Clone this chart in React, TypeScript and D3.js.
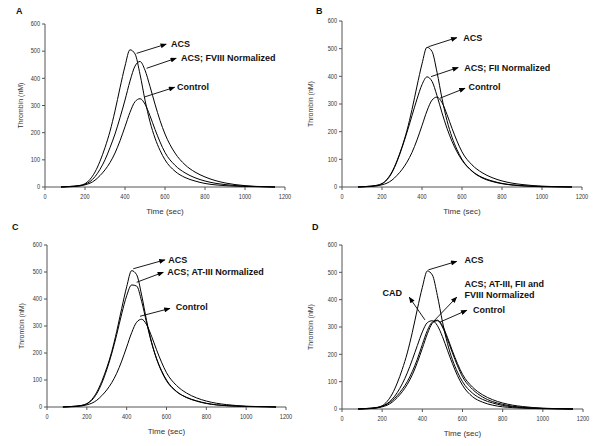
import React from "react";
import * as d3 from "d3";

// ---- data ----
const TIME = [80, 125, 175, 200, 225, 250, 275, 300, 325, 350, 375, 400, 425, 450, 475, 500, 525, 550, 575, 600, 650, 700, 750, 800, 850, 900, 1000, 1100, 1150];
const ACS = [0, 2, 6, 12, 28, 55, 95, 145, 205, 280, 365, 445, 505, 490, 415, 320, 240, 180, 135, 100, 58, 35, 22, 13, 8, 5, 2, 1, 0];
const CONTROL = [0, 1, 4, 8, 14, 25, 42, 63, 90, 125, 170, 222, 275, 314, 325, 305, 262, 212, 166, 127, 80, 52, 34, 22, 14, 9, 3, 1, 0];
const FVIII_NORM = [0, 2, 5, 10, 20, 38, 65, 100, 145, 195, 255, 320, 390, 445, 462, 430, 370, 305, 245, 195, 125, 82, 55, 37, 24, 15, 5, 1, 0];
const FII_NORM = [0, 2, 6, 12, 26, 52, 92, 142, 198, 258, 318, 370, 398, 382, 330, 268, 212, 165, 127, 97, 57, 33, 20, 12, 7, 4, 1, 0, 0];
const ATIII_NORM = [0, 2, 6, 12, 25, 50, 88, 138, 198, 268, 345, 412, 452, 448, 392, 312, 238, 178, 132, 97, 57, 36, 23, 14, 8, 5, 2, 1, 0];
const CAD = [0, 2, 5, 10, 20, 36, 60, 92, 132, 180, 232, 282, 316, 323, 305, 265, 215, 166, 122, 87, 45, 25, 14, 8, 5, 3, 1, 0, 0];
const ALL_NORM = [0, 1, 5, 10, 18, 31, 49, 72, 100, 137, 182, 236, 287, 318, 323, 300, 255, 205, 158, 118, 72, 44, 27, 17, 10, 6, 2, 1, 0];

const X_TICKS = [0, 200, 400, 600, 800, 1000, 1200];
const Y_TICKS = [0, 100, 200, 300, 400, 500, 600];
const PANEL_LETTERS = ["A", "B", "C", "D"];
const X_TITLE = "Time (sec)";
const Y_TITLE = "Thrombin (nM)";

type Ann = { lines: string[]; from: [number, number]; to: [number, number]; label: [number, number]; anchor: "start" | "end" };

const ANN_A: Ann[] = [
  { lines: ["ACS"], from: [458, 492], to: [606, 526], label: [630, 526], anchor: "start" },
  { lines: ["ACS; FVIII Normalized"], from: [508, 437], to: [656, 474], label: [680, 474], anchor: "start" },
  { lines: ["Control"], from: [500, 332], to: [648, 367], label: [660, 370], anchor: "start" },
];
const ANN_B: Ann[] = [
  { lines: ["ACS"], from: [432, 507], to: [574, 540], label: [606, 540], anchor: "start" },
  { lines: ["ACS; FII Normalized"], from: [445, 399], to: [581, 432], label: [611, 432], anchor: "start" },
  { lines: ["Control"], from: [490, 321], to: [615, 357], label: [632, 362], anchor: "start" },
];
const ANN_C: Ann[] = [
  { lines: ["ACS"], from: [433, 512], to: [592, 545], label: [609, 547], anchor: "start" },
  { lines: ["ACS; AT-III Normalized"], from: [450, 462], to: [584, 499], label: [604, 499], anchor: "start" },
  { lines: ["Control"], from: [467, 336], to: [617, 365], label: [646, 372], anchor: "start" },
];
const ANN_D: Ann[] = [
  { lines: ["ACS"], from: [430, 509], to: [571, 540], label: [610, 545], anchor: "start" },
  { lines: ["CAD"], from: [413, 326], to: [335, 409], label: [299, 424], anchor: "end" },
  { lines: ["ACS; AT-III, FII and", "FVIII Normalized"], from: [455, 320], to: [571, 409], label: [610, 457], anchor: "start" },
  { lines: ["Control"], from: [488, 318], to: [621, 361], label: [652, 364], anchor: "start" },
];

const PANELS = [
  { letter: PANEL_LETTERS[0], letterPos: [16, 14], x0: 45, x1: 285, y0: 187, y1: 24, ytx: 23, series: [ACS, FVIII_NORM, CONTROL], ann: ANN_A },
  { letter: PANEL_LETTERS[1], letterPos: [316, 14], x0: 342, x1: 582, y0: 187, y1: 21, ytx: 313, series: [ACS, FII_NORM, CONTROL], ann: ANN_B },
  { letter: PANEL_LETTERS[2], letterPos: [12, 230], x0: 47, x1: 286, y0: 407, y1: 245, ytx: 24, series: [ACS, ATIII_NORM, CONTROL], ann: ANN_C },
  { letter: PANEL_LETTERS[3], letterPos: [312, 230], x0: 342, x1: 583, y0: 409, y1: 245, ytx: 313, series: [ACS, CAD, ALL_NORM, CONTROL], ann: ANN_D },
];

const FONT = "'Liberation Sans', Arial, sans-serif";

function Panel({ p, idx }: { p: (typeof PANELS)[number]; idx: number }) {
  const x = d3.scaleLinear().domain([0, 1200]).range([p.x0, p.x1]);
  const y = d3.scaleLinear().domain([0, 600]).range([p.y0, p.y1]);
  const line = d3
    .line<number>()
    .x((_, i) => x(TIME[i]))
    .y((v) => y(v))
    .curve(d3.curveMonotoneX);
  const axisColor = "#555";
  return (
    <g>
      <text x={p.letterPos[0]} y={p.letterPos[1]} fontFamily={FONT} fontWeight="bold" fontSize={9} fill="#111">
        {p.letter}
      </text>
      {/* y axis */}
      <line x1={p.x0} x2={p.x0} y1={p.y0} y2={p.y1} stroke={axisColor} strokeWidth={1} />
      {Y_TICKS.map((t) => (
        <g key={"y" + t}>
          <line x1={p.x0 - 3} x2={p.x0} y1={y(t)} y2={y(t)} stroke={axisColor} />
          <g transform={`translate(${p.x0 - 5},${y(t) + 2.3}) scale(0.8,1)`}>
            <text textAnchor="end" fontFamily={FONT} fontSize={7} fill="#333">
              {t}
            </text>
          </g>
        </g>
      ))}
      {/* x axis */}
      <line x1={p.x0} x2={p.x1} y1={p.y0} y2={p.y0} stroke={axisColor} strokeWidth={1} />
      {X_TICKS.map((t) => (
        <g key={"x" + t}>
          <line x1={x(t)} x2={x(t)} y1={p.y0} y2={p.y0 + 3} stroke={axisColor} />
          <g transform={`translate(${x(t)},${p.y0 + 12}) scale(0.8,1)`}>
            <text textAnchor="middle" fontFamily={FONT} fontSize={7} fill="#333">
              {t}
            </text>
          </g>
        </g>
      ))}
      <text x={(p.x0 + p.x1) / 2} y={p.y0 + 27} textAnchor="middle" fontFamily={FONT} fontSize={8} fill="#333">
        {X_TITLE}
      </text>
      <text
        transform={`translate(${p.ytx},${(p.y0 + p.y1) / 2}) rotate(-90)`}
        textAnchor="middle"
        fontFamily={FONT}
        fontSize={7}
        fill="#333"
      >
        {Y_TITLE}
      </text>
      {/* curves */}
      {p.series.map((s, i) => (
        <path key={i} d={line(s) || ""} fill="none" stroke="#000" strokeWidth={1} />
      ))}
      {/* annotations */}
      {p.ann.map((a, i) => (
        <g key={"a" + i}>
          <line
            x1={x(a.from[0])}
            y1={y(a.from[1])}
            x2={x(a.to[0])}
            y2={y(a.to[1])}
            stroke="#000"
            strokeWidth={0.9}
            markerEnd={`url(#arrow${idx})`}
          />
          {a.lines.map((ln, j) => (
            <text
              key={j}
              x={x(a.label[0])}
              y={y(a.label[1]) + 3.2 + j * 11}
              textAnchor={a.anchor}
              fontFamily={FONT}
              fontWeight="bold"
              fontSize={9}
              fill="#111"
            >
              {ln}
            </text>
          ))}
        </g>
      ))}
    </g>
  );
}

export default function App() {
  return (
    <svg width={600} height={446} style={{ position: "absolute", left: 0, top: 0, background: "#fff" }}>
      <defs>
        {PANELS.map((_, i) => (
          <marker
            key={i}
            id={`arrow${i}`}
            viewBox="0 0 10 8"
            refX={9}
            refY={4}
            markerWidth={7}
            markerHeight={5}
            markerUnits="userSpaceOnUse"
            orient="auto"
          >
            <path d="M0,0 L10,4 L0,8 z" fill="#000" />
          </marker>
        ))}
      </defs>
      <rect width={600} height={446} fill="#fff" />
      {PANELS.map((p, i) => (
        <Panel key={i} p={p} idx={i} />
      ))}
    </svg>
  );
}
